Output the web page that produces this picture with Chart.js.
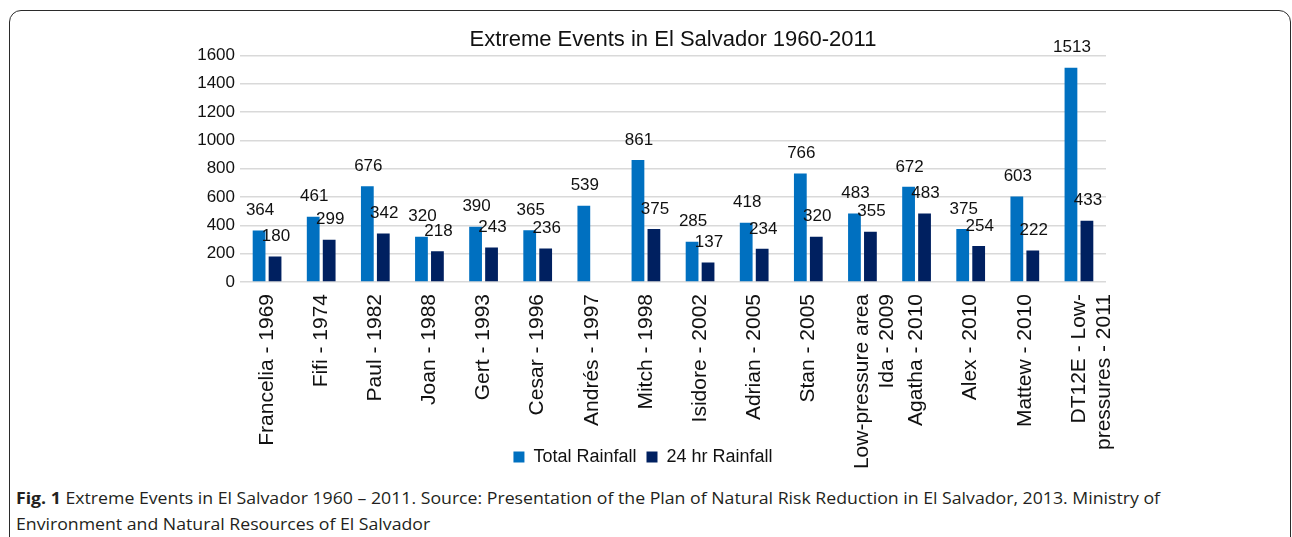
<!DOCTYPE html>
<html>
<head>
<meta charset="utf-8">
<script src="https://cdn.jsdelivr.net/npm/chart.js@4"></script>
<style>
  body { margin: 0; background: #fff; width: 1292px; height: 537px; overflow: hidden; position: relative; }
  .frame { position: absolute; left: 9px; top: 10px; width: 1282px; height: 560px; border: 1.5px solid #2b2b2b; border-radius: 12px; box-sizing: border-box; }
  .chart-box { position: absolute; left: 0; top: 0; width: 1292px; height: 476px; }
  .caption { position: absolute; left: 16px; top: 485px; font-family: "Open Sans", sans-serif; font-size: 16px; line-height: 26px; color: #231f20; white-space: nowrap; transform-origin: 0 0; }
  .caption b { font-weight: 700; }
</style>
</head>
<body>
<div class="frame"></div>
<div class="chart-box"><canvas id="myBarChart"></canvas></div>
<div class="caption" id="caption">
  <span id="line1"><b>Fig. 1</b> Extreme Events in El Salvador 1960 – 2011. Source: Presentation of the Plan of Natural Risk Reduction in El Salvador, 2013. Ministry of</span><br>
  <span>Environment and Natural Resources of El Salvador</span>
</div>
<script>
// data
const events = [
    'Francelia - 1969', 'Fifi - 1974', 'Paul - 1982', 'Joan - 1988', 'Gert - 1993',
    'Cesar - 1996', 'Andrés - 1997', 'Mitch - 1998', 'Isidore - 2002', 'Adrian - 2005',
    'Stan - 2005', ['Low-pressure area', 'Ida - 2009'], 'Agatha - 2010', 'Alex - 2010',
    'Mattew - 2010', ['DT12E - Low-', 'pressures - 2011']
];
const totalRainfall = [364, 461, 676, 320, 390, 365, 539, 861, 285, 418, 766, 483, 672, 375, 603, 1513];
const rain24hr = [180, 299, 342, 218, 243, 236, null, 375, 137, 234, 320, 355, 483, 254, 222, 433];
const yTicks = [0, 200, 400, 600, 800, 1000, 1200, 1400, 1600];

const FONT = "'Liberation Sans', Arial, Helvetica, sans-serif";

// labels above each bar
const barValues = {
    id: 'barValues',
    afterDatasetsDraw(chart) {
        const ctx = chart.ctx;
        ctx.save();
        ctx.font = '17px ' + FONT;
        ctx.fillStyle = '#111';
        ctx.textAlign = 'center';
        ctx.textBaseline = 'middle';
        chart.data.datasets.forEach(function(ds, i) {
            chart.getDatasetMeta(i).data.forEach(function(bar, j) {
                if (ds.data[j] === null) return;
                ctx.fillText(ds.data[j], bar.x + 1, bar.y - 20);
            });
        });
        ctx.restore();
    }
};

// the x axis is kept short so the legend sits between the long labels,
// so let its labels draw past the axis box instead of being clipped
const unclipLabels = {
    id: 'unclipLabels',
    afterLayout(chart) {
        chart.scales.x.bottom = chart.height;
    }
};

const ctxBar = document.getElementById('myBarChart').getContext('2d');
const myBarChart = new Chart(ctxBar, {
    type: 'bar',
    data: {
        labels: events,
        datasets: [{
            label: 'Total Rainfall',
            data: totalRainfall,
            backgroundColor: '#0070c0',
            borderWidth: 0
        }, {
            label: '24 hr Rainfall',
            data: rain24hr,
            backgroundColor: '#002060',
            borderWidth: 0
        }]
    },
    options: {
        responsive: true,
        maintainAspectRatio: false,
        animation: false,
        categoryPercentage: 0.59,
        barPercentage: 0.8,
        layout: { padding: { left: 180, right: 186, top: 14, bottom: 0 } },
        plugins: {
            title: {
                display: true,
                fullSize: false,
                text: 'Extreme Events in El Salvador 1960-2011',
                color: '#111',
                font: { family: FONT, size: 22, weight: 'normal' },
                padding: { top: 13, bottom: 2 }
            },
            legend: {
                position: 'bottom',
                labels: {
                    color: '#111',
                    font: { family: FONT, size: 18 },
                    boxWidth: 11,
                    boxHeight: 11,
                    padding: 10
                }
            },
            tooltip: { enabled: false }
        },
        scales: {
            x: {
                grid: { display: false },
                border: { display: false },
                ticks: {
                    color: '#111',
                    font: { family: FONT, size: 21 },
                    minRotation: 90,
                    maxRotation: 90,
                    autoSkip: false,
                    padding: 4
                },
                afterFit: function(scale) { scale.height = 156; }
            },
            y: {
                min: 0,
                max: 1600,
                afterBuildTicks: function(scale) {
                    scale.ticks = yTicks.map(function(v) { return { value: v }; });
                },
                grid: { color: '#d9d9d9', lineWidth: 1.5, drawTicks: false },
                border: { display: false },
                ticks: {
                    color: '#111',
                    font: { family: FONT, size: 17 },
                    padding: 5,
                    callback: function(v) { return String(v); }
                },
                afterFit: function(scale) { scale.width = 60; }
            }
        }
    },
    plugins: [barValues, unclipLabels]
});

// fit first caption line to the reference width
const line1 = document.getElementById('line1');
const cap = document.getElementById('caption');
const sx = 1144 / line1.getBoundingClientRect().width;
cap.style.transform = 'scaleX(' + sx + ')';
</script>
</body>
</html>
